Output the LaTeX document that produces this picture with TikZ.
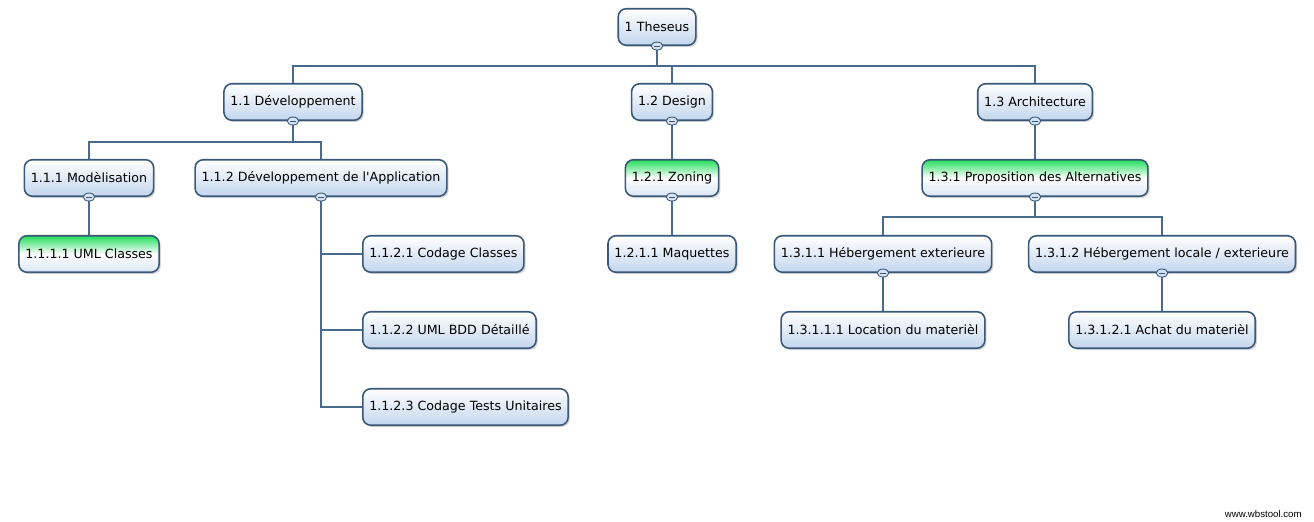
\documentclass[tikz,border=0pt]{standalone}
\usepackage{fontspec}
\setmainfont{DejaVu Sans}
\newfontfamily\creditfont{Liberation Sans}
\usetikzlibrary{shapes,positioning,calc,shadows}
\definecolor{WbsBorder}{HTML}{3A5878}
\definecolor{WbsLine}{HTML}{4A6A8C}
\definecolor{WbsBlue}{HTML}{C3D6EE}
\definecolor{WbsGreen}{HTML}{22DD5A}
\tikzset{
    % Base task box
    tasknode/.style={
        draw=WbsBorder,
        line width=0.9pt,
        rounded corners=1.6mm,
        top color=white,
        bottom color=WbsBlue,
        minimum height=7.3mm,
        inner xsep=1.3mm,
        font=\fontsize{7.2}{8}\selectfont,
        drop shadow={shadow xshift=0.35mm, shadow yshift=-0.35mm, opacity=0.3}
    },
    % Task marked as started
    donenode/.style={
        tasknode,
        top color=WbsGreen,
        bottom color=WbsBlue!60,
        middle color=white
    },
    % Connector
    link/.style={
        draw=WbsLine,
        line width=1.1pt
    },
    % Collapse marker
    togglenode/.style={
        ellipse,
        draw=WbsBorder,
        fill=WbsBlue!70,
        line width=0.5pt,
        minimum width=2.3mm,
        minimum height=1.6mm,
        inner sep=0pt
    },
    togglebar/.style={
        draw=WbsBorder,
        line width=0.6pt
    },
    % Site credit
    creditnode/.style={
        font=\creditfont\fontsize{5.5}{6}\selectfont,
        inner sep=0pt
    }
}
\begin{document}
\begin{tikzpicture}[x=0.2mm, y=-0.2mm]
        \path[fill=white, use as bounding box] (0,0) rectangle (1314,522);

        % Level 0
        \node[tasknode] (root) at (657,27) {1 Theseus};

        % Level 1
        \node[tasknode] (dev) at (293,102) {1.1 Développement};
        \node[tasknode] (design) at (672,102) {1.2 Design};
        \node[tasknode] (arch) at (1035,102) {1.3 Architecture};

        % Level 2
        \node[tasknode] (model) at (89,178) {1.1.1 Modèlisation};
        \node[tasknode] (app) at (321,178) {1.1.2 Développement de l\textquotesingle Application};
        \node[donenode] (zoning) at (672,178) {1.2.1 Zoning};
        \node[donenode] (prop) at (1035,178) {1.3.1 Proposition des Alternatives};

        % Level 3
        \node[donenode] (uml) at (89,254) {1.1.1.1 UML Classes};
        \node[tasknode, anchor=west] (codcl) at (362,254) {1.1.2.1 Codage Classes};
        \node[tasknode, anchor=west] (bdd) at (362,330) {1.1.2.2 UML BDD Détaillé};
        \node[tasknode, anchor=west] (tests) at (362,407) {1.1.2.3 Codage Tests Unitaires};
        \node[tasknode] (maq) at (672,254) {1.2.1.1 Maquettes};
        \node[tasknode] (hebext) at (883,254) {1.3.1.1 Hébergement exterieure};
        \node[tasknode] (hebloc) at (1162,254) {1.3.1.2 Hébergement locale / exterieure};

        % Level 4
        \node[tasknode] (loc) at (883,330) {1.3.1.1.1 Location du materièl};
        \node[tasknode] (achat) at (1162,330) {1.3.1.2.1 Achat du materièl};

        % Bus points
        \coordinate (b0) at (657,66);
        \coordinate (b1) at (293,142);
        \coordinate (b3) at (1035,217);

        % Connectors
        \draw[link] (root.south) -- (b0) -| (dev.north);
        \draw[link] (b0) -| (design.north);
        \draw[link] (b0) -| (arch.north);

        \draw[link] (dev.south) -- (b1) -| (model.north);
        \draw[link] (b1) -| (app.north);
        \draw[link] (model.south) -- (uml.north);
        \draw[link] (app.south) |- (codcl.west);
        \draw[link] (app.south) |- (bdd.west);
        \draw[link] (app.south) |- (tests.west);

        \draw[link] (design.south) -- (zoning.north);
        \draw[link] (zoning.south) -- (maq.north);

        \draw[link] (arch.south) -- (prop.north);
        \draw[link] (prop.south) -- (b3) -| (hebext.north);
        \draw[link] (b3) -| (hebloc.north);
        \draw[link] (hebext.south) -- (loc.north);
        \draw[link] (hebloc.south) -- (achat.north);

        % Collapse markers
        \foreach \n in {root,dev,design,arch,model,app,zoning,prop,hebext,hebloc} {
            \node[togglenode] (\n-t) at (\n.south) {};
            \draw[togglebar] ([xshift=-0.6mm]\n-t.center) -- ([xshift=0.6mm]\n-t.center);
        }

        \node[creditnode, anchor=east] (credit) at (1302,514) {www.wbstool.com};
    \end{tikzpicture}
\end{document}
